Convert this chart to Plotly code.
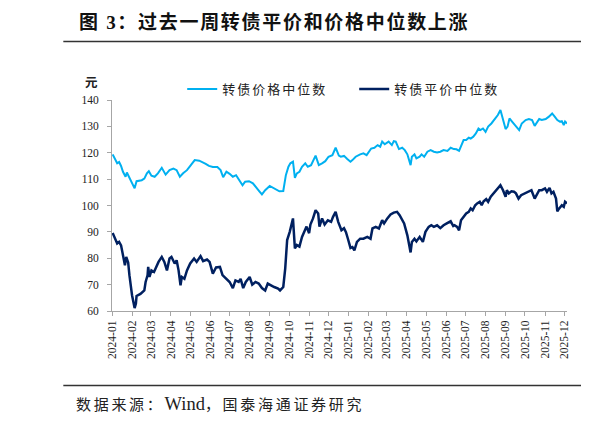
import plotly.graph_objects as go

# 转债价格中位数 (light blue)
price_dates = [
    "2024-01-02", "2024-01-06", "2024-01-09", "2024-01-12", "2024-01-15", "2024-01-18",
    "2024-01-22", "2024-01-24", "2024-01-27", "2024-02-01", "2024-02-05", "2024-02-08",
    "2024-02-16", "2024-02-20", "2024-02-24", "2024-02-27", "2024-03-02", "2024-03-07",
    "2024-03-12", "2024-03-18", "2024-03-24", "2024-03-30", "2024-04-05", "2024-04-10",
    "2024-04-15", "2024-04-20", "2024-04-26", "2024-05-02", "2024-05-08", "2024-05-15",
    "2024-05-20", "2024-05-25", "2024-05-30", "2024-06-05", "2024-06-12", "2024-06-17",
    "2024-06-21", "2024-06-26", "2024-07-01", "2024-07-06", "2024-07-11", "2024-07-16",
    "2024-07-21", "2024-07-25", "2024-07-31", "2024-08-06", "2024-08-11", "2024-08-16",
    "2024-08-20", "2024-08-25", "2024-09-01", "2024-09-06", "2024-09-12", "2024-09-16",
    "2024-09-22", "2024-09-26", "2024-09-30", "2024-10-03", "2024-10-07", "2024-10-10",
    "2024-10-13", "2024-10-17", "2024-10-21", "2024-10-26", "2024-10-30", "2024-11-04",
    "2024-11-11", "2024-11-16", "2024-11-21", "2024-11-26", "2024-12-01", "2024-12-07",
    "2024-12-12", "2024-12-17", "2024-12-20", "2024-12-25", "2024-12-30", "2025-01-04",
    "2025-01-07", "2025-01-12", "2025-01-19", "2025-01-24", "2025-01-29", "2025-02-05",
    "2025-02-10", "2025-02-15", "2025-02-19", "2025-02-22", "2025-02-26", "2025-03-04",
    "2025-03-09", "2025-03-12", "2025-03-15", "2025-03-18", "2025-03-20", "2025-03-25",
    "2025-03-29", "2025-04-02", "2025-04-07", "2025-04-09", "2025-04-13", "2025-04-16",
    "2025-04-21", "2025-04-24", "2025-04-28", "2025-05-03", "2025-05-08", "2025-05-13",
    "2025-05-18", "2025-05-23", "2025-05-28", "2025-06-03", "2025-06-08", "2025-06-13",
    "2025-06-17", "2025-06-21", "2025-06-25", "2025-06-28", "2025-07-02", "2025-07-06",
    "2025-07-09", "2025-07-13", "2025-07-17", "2025-07-21", "2025-07-24", "2025-07-28",
    "2025-08-01", "2025-08-05", "2025-08-10", "2025-08-15", "2025-08-20", "2025-08-24",
    "2025-08-28", "2025-09-01", "2025-09-04", "2025-09-07", "2025-09-11", "2025-09-15",
    "2025-09-19", "2025-09-22", "2025-09-26", "2025-10-02", "2025-10-07", "2025-10-12",
    "2025-10-16", "2025-10-20", "2025-10-23", "2025-10-27", "2025-11-02", "2025-11-07",
    "2025-11-12", "2025-11-16", "2025-11-20", "2025-11-24", "2025-11-27", "2025-11-30",
    "2025-12-02", "2025-12-05",
]
price_median = [
    119.4, 117.2, 116.0, 116.5, 115.0, 112.8,
    110.9, 112.5, 111.0, 108.4, 106.5, 109.2,
    109.6, 110.2, 112.2, 113.0, 111.3, 110.9,
    112.2, 114.3, 111.7, 113.4, 114.0, 113.4,
    110.9, 112.2, 113.4, 115.3, 117.2, 117.0,
    116.5, 115.8, 115.0, 114.6, 114.6, 113.4,
    110.7, 112.8, 112.0, 110.9, 111.5, 109.6,
    107.7, 109.0, 109.2, 108.4, 107.1, 105.4,
    104.2, 105.8, 107.4, 106.7, 106.1, 105.4,
    105.5, 111.5, 114.7, 116.0, 116.6, 110.5,
    112.2, 112.8, 114.7, 116.0, 114.7, 115.3,
    118.9, 115.3, 116.0, 116.8, 118.5, 119.1,
    121.9, 118.9, 118.5, 118.8, 117.6, 116.6,
    117.2, 118.5, 119.4, 119.8, 119.1, 121.6,
    121.9, 122.9, 122.3, 124.2, 123.2, 124.2,
    122.9, 124.4, 124.2, 122.6, 121.4, 121.9,
    121.0, 119.4, 115.3, 118.5, 119.4, 117.9,
    118.5, 119.4, 118.5, 120.4, 121.0, 120.4,
    120.1, 120.4, 121.0, 120.7, 121.9, 121.4,
    121.3, 120.7, 122.9, 124.8, 124.8, 125.7,
    125.4, 126.1, 127.3, 129.2, 128.6, 129.2,
    127.9, 129.9, 131.1, 132.8, 134.3, 136.2,
    132.4, 129.0, 129.9, 133.0, 131.8, 130.5,
    129.2, 128.6, 131.1, 132.4, 132.8, 132.4,
    130.2, 131.8, 132.8, 132.4, 132.8, 133.7,
    134.9, 133.7, 132.4, 131.8, 132.0, 130.5,
    131.8, 131.1,
]

# 转债平价中位数 (dark blue)
parity_dates = [
    "2024-01-02", "2024-01-05", "2024-01-09", "2024-01-12", "2024-01-15", "2024-01-18",
    "2024-01-21", "2024-01-23", "2024-01-26", "2024-01-28", "2024-02-01", "2024-02-05",
    "2024-02-07", "2024-02-08", "2024-02-14", "2024-02-20", "2024-02-22", "2024-02-25",
    "2024-02-26", "2024-02-28", "2024-03-02", "2024-03-06", "2024-03-10", "2024-03-13",
    "2024-03-18", "2024-03-22", "2024-03-26", "2024-03-30", "2024-04-02", "2024-04-07",
    "2024-04-10", "2024-04-13", "2024-04-16", "2024-04-18", "2024-04-22", "2024-04-26",
    "2024-05-01", "2024-05-07", "2024-05-11", "2024-05-17", "2024-05-21", "2024-05-27",
    "2024-05-31", "2024-06-05", "2024-06-10", "2024-06-16", "2024-06-20", "2024-06-23",
    "2024-06-27", "2024-07-01", "2024-07-06", "2024-07-10", "2024-07-15", "2024-07-18",
    "2024-07-22", "2024-07-26", "2024-08-01", "2024-08-05", "2024-08-10", "2024-08-15",
    "2024-08-20", "2024-08-25", "2024-08-29", "2024-09-03", "2024-09-08", "2024-09-14",
    "2024-09-17", "2024-09-22", "2024-09-25", "2024-09-28", "2024-10-02", "2024-10-07",
    "2024-10-10", "2024-10-13", "2024-10-17", "2024-10-21", "2024-10-26", "2024-10-28",
    "2024-11-01", "2024-11-03", "2024-11-07", "2024-11-11", "2024-11-15", "2024-11-17",
    "2024-11-21", "2024-11-25", "2024-11-30", "2024-12-05", "2024-12-08", "2024-12-12",
    "2024-12-16", "2024-12-21", "2024-12-25", "2024-12-28", "2024-12-31", "2025-01-04",
    "2025-01-07", "2025-01-10", "2025-01-14", "2025-01-19", "2025-01-24", "2025-01-30",
    "2025-02-04", "2025-02-07", "2025-02-12", "2025-02-17", "2025-02-22", "2025-02-25",
    "2025-03-02", "2025-03-07", "2025-03-12", "2025-03-17", "2025-03-21", "2025-03-25",
    "2025-03-28", "2025-04-02", "2025-04-07", "2025-04-09", "2025-04-13", "2025-04-16",
    "2025-04-21", "2025-04-26", "2025-04-30", "2025-05-05", "2025-05-09", "2025-05-13",
    "2025-05-18", "2025-05-23", "2025-05-28", "2025-06-02", "2025-06-08", "2025-06-12",
    "2025-06-14", "2025-06-18", "2025-06-21", "2025-06-24", "2025-06-28", "2025-07-02",
    "2025-07-06", "2025-07-09", "2025-07-12", "2025-07-16", "2025-07-19", "2025-07-23",
    "2025-07-26", "2025-07-29", "2025-08-02", "2025-08-05", "2025-08-09", "2025-08-12",
    "2025-08-16", "2025-08-20", "2025-08-24", "2025-08-28", "2025-09-01", "2025-09-03",
    "2025-09-06", "2025-09-10", "2025-09-14", "2025-09-17", "2025-09-21", "2025-09-25",
    "2025-10-01", "2025-10-06", "2025-10-11", "2025-10-16", "2025-10-20", "2025-10-23",
    "2025-10-27", "2025-11-01", "2025-11-04", "2025-11-08", "2025-11-11", "2025-11-14",
    "2025-11-18", "2025-11-20", "2025-11-23", "2025-11-27", "2025-11-30", "2025-12-02",
    "2025-12-05",
]
parity_median = [
    89.6, 88.1, 85.6, 86.2, 84.9, 81.1,
    77.3, 80.5, 78.4, 73.5, 66.0, 61.1,
    62.8, 65.7, 66.5, 67.8, 71.0, 73.5,
    76.7, 72.9, 75.4, 74.8, 77.3, 78.6,
    80.5, 78.6, 75.4, 79.9, 80.5, 78.0,
    79.2, 75.4, 69.7, 72.9, 72.2, 75.4,
    78.0, 79.9, 78.6, 80.8, 78.9, 79.5,
    78.6, 74.2, 76.5, 76.7, 73.6, 72.9,
    71.6, 71.0, 68.7, 71.6, 71.0, 72.2,
    68.7, 71.0, 72.9, 70.0, 71.0, 70.4,
    68.7, 67.8, 70.4, 69.7, 69.1, 68.5,
    67.8, 69.1, 76.1, 86.9, 90.0, 95.1,
    83.7, 85.0, 84.4, 88.1, 91.3, 92.0,
    89.5, 92.8, 95.1, 98.2, 97.0, 92.0,
    95.1, 92.8, 94.4, 93.8, 95.7, 97.6,
    93.8, 90.6, 91.4, 89.9, 87.4, 83.9,
    84.2, 83.0, 86.2, 87.4, 87.4, 88.1,
    87.4, 91.3, 91.9, 91.3, 94.4, 93.2,
    95.1, 96.6, 97.3, 97.6, 96.3, 94.4,
    93.2, 88.7, 82.2, 86.2, 87.4, 86.4,
    88.1, 86.2, 90.0, 91.9, 92.5, 91.9,
    92.5, 91.4, 92.5, 93.2, 94.0, 92.2,
    92.5, 91.9, 90.6, 94.4, 95.7, 97.0,
    97.6, 98.9, 98.2, 100.1, 100.8, 101.4,
    100.1, 101.6, 102.4, 101.4, 103.3, 104.2,
    105.2, 106.5, 107.7, 105.8, 103.3, 105.8,
    104.6, 105.4, 105.2, 104.6, 102.6, 103.9,
    104.6, 105.2, 105.8, 102.6, 104.6, 105.8,
    105.8, 106.5, 105.2, 106.7, 104.6, 105.2,
    102.6, 97.8, 98.9, 100.1, 99.5, 101.4,
    100.8,
]

TITLE = "图 3：过去一周转债平价和价格中位数上涨"
SOURCE_PARTS = ["数据来源：", "Wind", "，国泰海通证券研究"]
UNIT = "元"
PRICE_NAME = "转债价格中位数"
PARITY_NAME = "转债平价中位数"

SERIF = "Liberation Serif, Times New Roman, Noto Sans CJK SC, serif"
CJK = "Liberation Serif, Noto Sans CJK SC, sans-serif"
LIGHT = "#00B0F0"
DARK = "#002060"
AXIS = "#A6A6A6"


def spaced(text, px):
    # report text is set with loose character spacing
    return f"<span style='letter-spacing:{px}px'>{text}</span>"


source_text = (spaced(SOURCE_PARTS[0], 2.7)
               + f"<span style='font-size:18.5px'>{SOURCE_PARTS[1]}</span>"
               + spaced(SOURCE_PARTS[2], 2.7))

fig = go.Figure()
fig.add_trace(go.Scatter(
    x=price_dates, y=price_median, mode="lines", name=spaced(PRICE_NAME, 2),
    line=dict(color=LIGHT, width=2),
))
fig.add_trace(go.Scatter(
    x=parity_dates, y=parity_median, mode="lines", name=spaced(PARITY_NAME, 2),
    line=dict(color=DARK, width=2.5),
))

# the page body has an 8px margin, so the figure is 8px smaller each way
fig.update_layout(
    width=581, height=414,
    margin=dict(l=104, r=21.5, t=92, b=111.3),
    paper_bgcolor="white", plot_bgcolor="white",
    font=dict(family=SERIF, size=11.5, color="#222"),
    showlegend=True,
    legend=dict(
        orientation="h", x=0.1543, xanchor="left", y=1.0522, yanchor="middle",
        font=dict(family=CJK, size=13, color="#222"),
        bgcolor="rgba(0,0,0,0)", borderwidth=0, itemwidth=30,
        entrywidth=127, tracegroupgap=0,
    ),
    xaxis=dict(
        type="date", range=["2024-01-01", "2025-12-05"],
        dtick="M1", tick0="2024-01-01", tickformat="%Y-%m", tickangle=-90,
        showline=True, linecolor=AXIS, linewidth=1,
        ticks="outside", ticklen=4, tickcolor=AXIS,
        showgrid=False, zeroline=False,
        tickfont=dict(family=SERIF, size=11.5, color="#222"),
    ),
    yaxis=dict(
        range=[60, 140], dtick=10,
        showline=True, linecolor=AXIS, linewidth=1,
        ticks="outside", ticklen=4, tickcolor=AXIS,
        showgrid=False, zeroline=False, ticklabelstandoff=6,
        tickfont=dict(family=SERIF, size=11.5, color="#222"),
    ),
)

# title, unit and source text
fig.add_annotation(
    text=f"<b>{spaced(TITLE, 1.7)}</b>", xref="paper", yref="paper", x=-0.0775, y=1.3716,
    xanchor="left", yanchor="middle", showarrow=False,
    font=dict(family=CJK, size=19, color="#111"),
)
fig.add_annotation(
    text="<b>图</b>", xref="paper", yref="paper", x=1.032, y=1.3716,
    xanchor="left", yanchor="middle", showarrow=False,
    font=dict(family=CJK, size=19, color="#111"),
)
fig.add_annotation(
    text=f"<b>{UNIT}</b>", xref="paper", yref="paper", x=-0.0446, y=1.0800,
    xanchor="center", yanchor="middle", showarrow=False,
    font=dict(family=CJK, size=12.5, color="#222"),
)
fig.add_annotation(
    text=source_text, xref="paper", yref="paper", x=-0.0834, y=-0.4395,
    xanchor="left", yanchor="middle", showarrow=False,
    font=dict(family=CJK, size=15, color="#222"),
)
fig.add_annotation(
    text="数", xref="paper", yref="paper", x=1.039, y=-0.4395,
    xanchor="left", yanchor="middle", showarrow=False,
    font=dict(family=CJK, size=15, color="#222"),
)

# rules under the title and above the source
fig.add_shape(type="line", xref="paper", yref="paper", x0=-0.107, x1=1.06,
              y0=1.2767, y1=1.2767, line=dict(color="#333", width=1.5))
fig.add_shape(type="line", xref="paper", yref="paper", x0=-0.107, x1=1.06,
              y0=-0.3526, y1=-0.3526, line=dict(color="#333", width=1.5))

fig.write_html("out.html")
